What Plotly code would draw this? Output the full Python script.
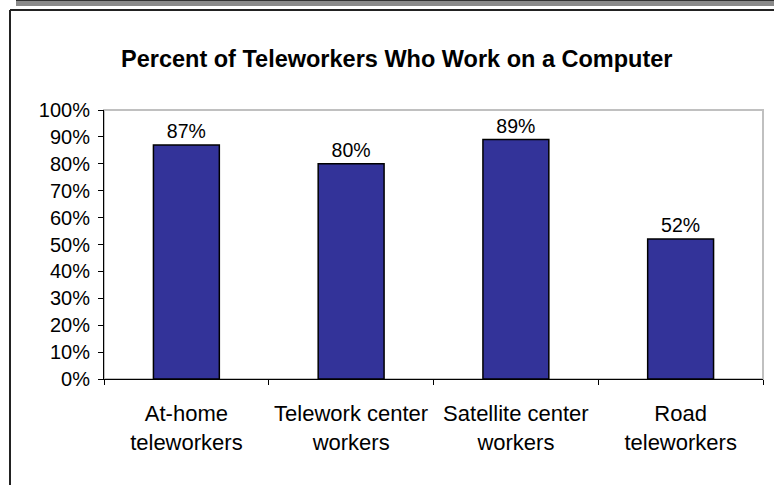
import plotly.graph_objects as go

# Survey results: share of each teleworker group that works on a computer
categories = ["At-home<br>teleworkers", "Telework center<br>workers",
              "Satellite center<br>workers", "Road<br>teleworkers"]
values = [0.87, 0.80, 0.89, 0.52]
value_labels = ["87%", "80%", "89%", "52%"]
y_ticks = [i / 10 for i in range(11)]
y_tick_labels = [f"{i * 10}%" for i in range(11)]

W, H = 774, 485
FONT = "Liberation Sans, Arial, sans-serif"

# plot area in pixels
px_left, px_right, px_top, px_bottom = 104, 763, 110, 379


def fx(px):
    return px / W


def fy(py):
    return 1 - py / H


fig = go.Figure(
    go.Bar(
        x=categories,
        y=values,
        text=value_labels,
        textposition="outside",
        textfont=dict(family=FONT, size=19.5, color="black"),
        marker=dict(color="#333399", line=dict(color="black", width=1.5)),
        cliponaxis=False,
    )
)

fig.update_layout(
    width=W,
    height=H,
    margin=dict(l=0, r=0, t=0, b=0, autoexpand=False),
    paper_bgcolor="white",
    plot_bgcolor="white",
    showlegend=False,
    bargap=0.6,
    font=dict(family=FONT, color="black"),
    xaxis=dict(
        domain=[fx(px_left), fx(px_right)],
        type="category",
        automargin=False,
        showline=True,
        linecolor="black",
        linewidth=1,
        ticks="outside",
        tickson="boundaries",
        ticklen=5,
        tickcolor="black",
        tickfont=dict(family=FONT, size=22, color="black"),
        ticklabelstandoff=15,
        showgrid=False,
        zeroline=False,
    ),
    yaxis=dict(
        domain=[fy(px_bottom), fy(px_top)],
        range=[0, 1],
        automargin=False,
        tickvals=y_ticks,
        ticktext=y_tick_labels,
        showline=True,
        linecolor="black",
        linewidth=1,
        ticks="outside",
        ticklen=5,
        tickcolor="black",
        tickfont=dict(family=FONT, size=20, color="black"),
        ticklabelstandoff=4,
        showgrid=False,
        zeroline=False,
    ),
    shapes=[
        # top banner strip
        dict(type="rect", xref="paper", yref="paper", x0=fx(16), x1=1,
             y0=fy(6), y1=fy(0.5), fillcolor="#8a8a8a", line=dict(width=0)),
        dict(type="line", xref="paper", yref="paper", x0=fx(16), x1=1,
             y0=fy(0.5), y1=fy(0.5), line=dict(color="#333333", width=1)),
        # chart frame (top and left)
        dict(type="line", xref="paper", yref="paper", x0=fx(10), x1=1,
             y0=fy(10), y1=fy(10), line=dict(color="#222222", width=2)),
        dict(type="line", xref="paper", yref="paper", x0=fx(10), x1=fx(10),
             y0=fy(10), y1=0, line=dict(color="#222222", width=2)),
        # plot area border (top and right)
        dict(type="rect", xref="paper", yref="paper", x0=fx(px_left), x1=fx(px_right),
             y0=fy(px_bottom), y1=fy(px_top), line=dict(color="#c0c0c0", width=2),
             layer="below"),
    ],
    annotations=[
        dict(text="<b>Percent of Teleworkers Who Work on a Computer</b>",
             xref="paper", yref="paper", x=fx(397), y=fy(59),
             xanchor="center", yanchor="middle", showarrow=False,
             font=dict(family=FONT, size=23.5, color="black")),
    ],
)

# page without the default body margin so the figure sits at the window origin
fig.write_html(
    "out.html",
    post_script="document.body.style.margin='0';"
                "document.documentElement.style.overflow='hidden';",
)
